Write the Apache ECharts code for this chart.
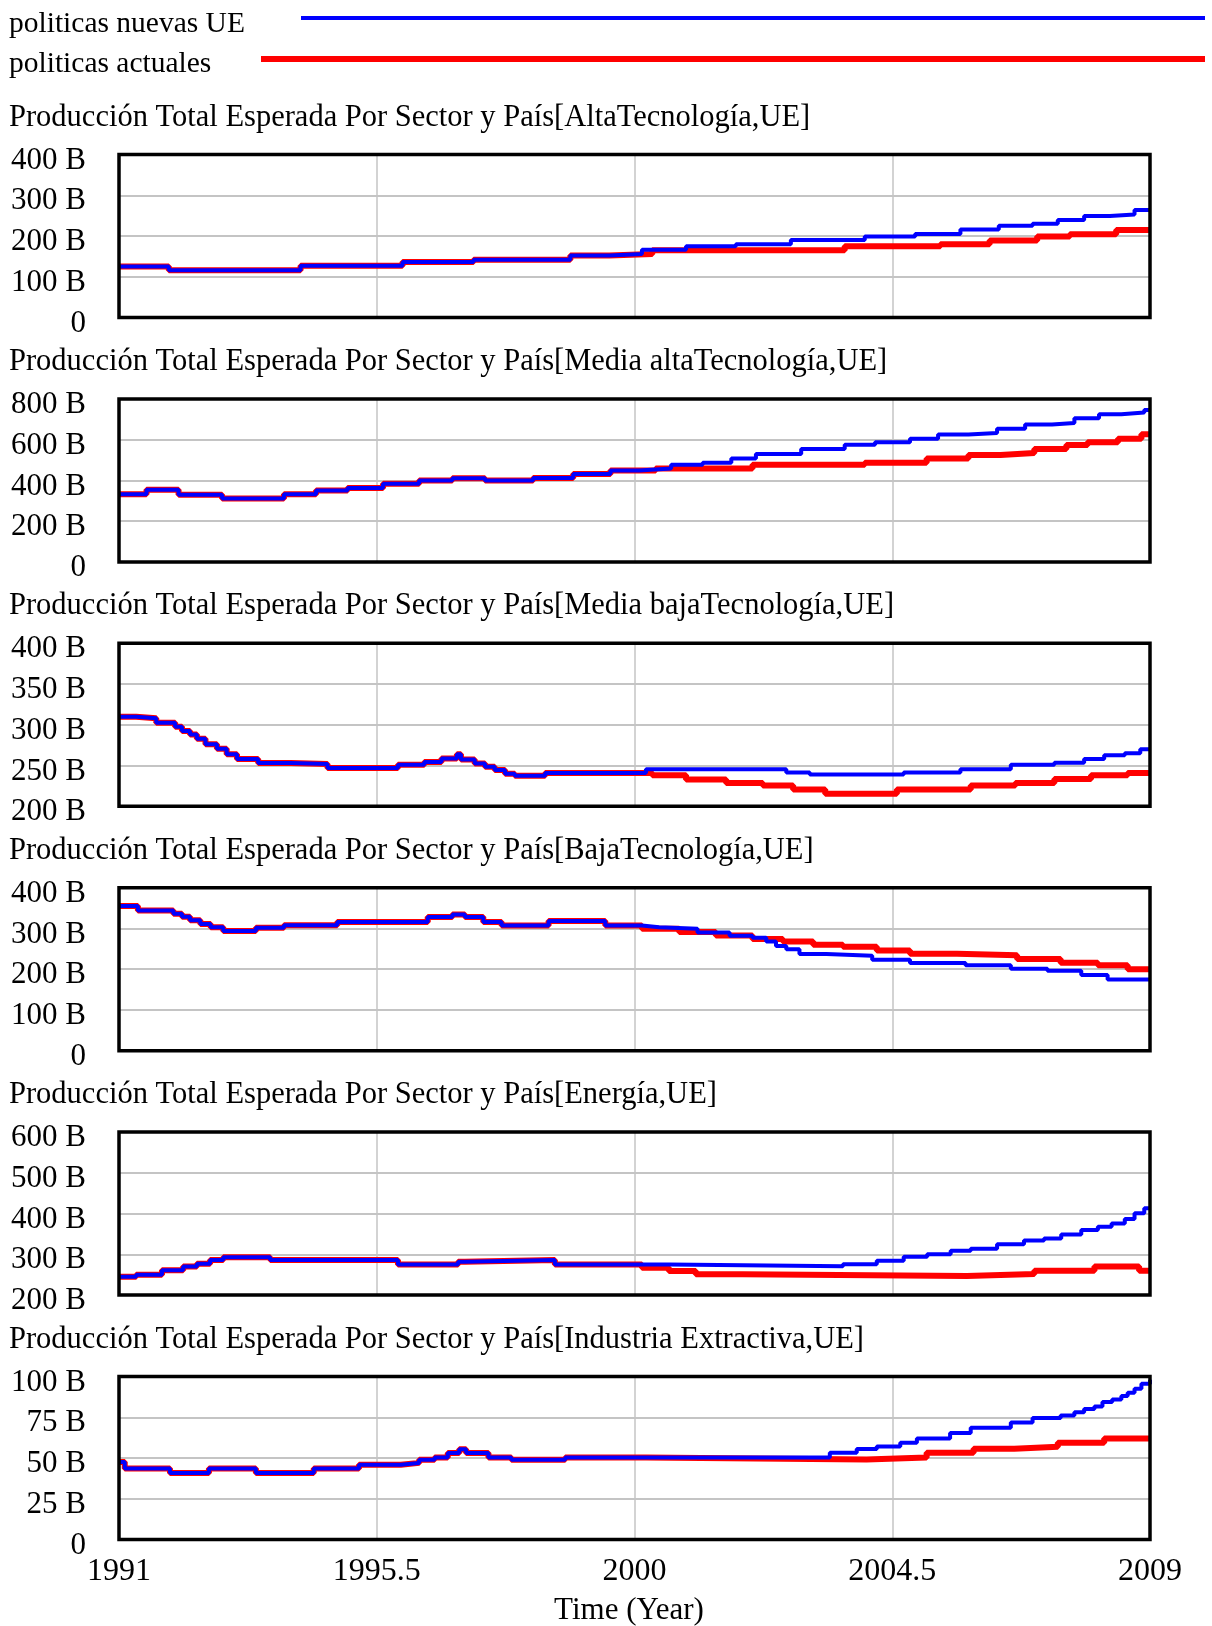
<!DOCTYPE html>
<html>
<head>
<meta charset="utf-8">
<script src="https://cdn.jsdelivr.net/npm/echarts@6/dist/echarts.min.js"></script>
<style>
  html, body { margin: 0; padding: 0; background: #ffffff; }
  #chart { width: 1212px; height: 1626px; }
</style>
</head>
<body>
<div id="chart"></div>
<script>
// Time axis (years)
const yearStart = 1991;
const yearEnd = 2009;
const yearStep = 4.5;

const seriesNames = ['politicas nuevas UE', 'politicas actuales'];

const panelTitles = [
  'Producción Total Esperada Por Sector y País[AltaTecnología,UE]',
  'Producción Total Esperada Por Sector y País[Media altaTecnología,UE]',
  'Producción Total Esperada Por Sector y País[Media bajaTecnología,UE]',
  'Producción Total Esperada Por Sector y País[BajaTecnología,UE]',
  'Producción Total Esperada Por Sector y País[Energía,UE]',
  'Producción Total Esperada Por Sector y País[Industria Extractiva,UE]'
];

// Value axes (billions)
const axisMin = [0, 0, 200, 0, 200, 0];
const axisMax = [400, 800, 400, 400, 600, 100];
const axisStep = [100, 200, 50, 100, 100, 25];

// Each run is stored as change points: the value holds until the next year listed.
// Shared history (both runs identical) followed by each run's own path.

// AltaTecnología
const altaComunYears = [1991, 1991.87, 1994.17, 1995.95, 1997.19, 1998.88, 1999.56];
const altaComunVals  = [125, 116, 127, 136, 142, 152, 156];
const altaNuevasYears = [2000.13, 2000.9, 2001.77, 2002.73, 2004.02, 2004.9, 2005.69, 2006.36, 2006.95, 2007.39, 2007.85, 2008.3, 2008.73, 2009];
const altaNuevasVals  = [166, 175, 180, 190, 199, 205, 216, 225, 230, 239, 249, 253, 264, 264];
const altaActualesYears = [2000.31, 2003.67, 2005.34, 2006.2, 2007.03, 2007.6, 2008.41, 2009];
const altaActualesVals  = [165, 175, 180, 189, 199, 204, 215, 215];

// Media altaTecnología
const mediaAltaComunYears = [1991, 1991.48, 1992.04, 1992.8, 1993.88, 1994.44, 1994.99, 1995.61, 1996.24, 1996.82, 1997.39, 1998.23, 1998.93, 1999.58];
const mediaAltaComunVals  = [332, 354, 330, 311, 332, 351, 363, 384, 400, 410, 400, 412, 432, 449];
const mediaAltaNuevasYears = [2000.08, 2000.64, 2001.19, 2001.69, 2002.12, 2002.91, 2003.67, 2004.2, 2004.81, 2005.3, 2005.83, 2006.33, 2006.82, 2007.29, 2007.68, 2008.11, 2008.5, 2008.9, 2009];
const mediaAltaNuevasVals  = [458, 477, 487, 507, 530, 554, 575, 587, 605, 625, 633, 654, 674, 682, 705, 725, 733, 746, 746];
const mediaAltaActualesYears = [2000.37, 2002.06, 2004.02, 2005.1, 2005.83, 2006.39, 2006.98, 2007.54, 2007.91, 2008.44, 2008.85, 2009];
const mediaAltaActualesVals  = [459, 477, 487, 507, 525, 534, 554, 574, 587, 605, 626, 626];

// Media bajaTecnología
const mediaBajaComunYears = [1991, 1991.3, 1991.65, 1991.98, 1992.1, 1992.24, 1992.36, 1992.51, 1992.71, 1992.88, 1993.06, 1993.43, 1994.0, 1994.64, 1995.87, 1996.33, 1996.63, 1996.9, 1996.97, 1997.21, 1997.39, 1997.56, 1997.74, 1997.91, 1998.44];
const mediaBajaComunVals  = [310, 308, 302.5, 297.5, 292.5, 288, 283, 276, 270.5, 264, 258, 253, 252, 247, 251, 254.5, 258.5, 264, 257.5, 252.5, 248.5, 244.5, 240, 237.5, 241];
const mediaBajaNuevasYears = [2000.2, 2002.65, 2003.06, 2004.7, 2005.69, 2006.57, 2007.33, 2007.85, 2008.2, 2008.56, 2008.83, 2009];
const mediaBajaNuevasVals  = [245.5, 241.5, 239, 241.5, 245.5, 251, 253.5, 258, 262.5, 265, 270, 270];
const mediaBajaActualesYears = [2000.31, 2000.9, 2001.6, 2002.24, 2002.77, 2003.33, 2004.58, 2005.87, 2006.65, 2007.33, 2007.97, 2008.61, 2009];
const mediaBajaActualesVals  = [238, 233, 228.5, 225.5, 220.5, 215.5, 220.5, 225.5, 228.5, 233.5, 238, 241, 241];

// BajaTecnología
const bajaComunYears = [1991, 1991.33, 1991.95, 1992.1, 1992.24, 1992.42, 1992.6, 1992.82, 1993.39, 1993.88, 1994.81, 1996.39, 1996.82, 1997.04, 1997.36, 1997.68, 1998.5, 1999.49];
const bajaComunVals  = [355, 344, 336, 329, 320, 311, 303, 294, 302, 308, 316, 328, 334, 328, 316, 307, 318, 307];
const bajaNuevasYears = [2000.13, 2000.43, 2001.1, 2001.66, 2002.06, 2002.3, 2002.47, 2002.65, 2002.88, 2003.35, 2004.15, 2004.81, 2005.78, 2006.57, 2007.21, 2007.8, 2008.26, 2009];
const bajaNuevasVals  = [303, 299, 290, 282, 277, 268, 257, 249, 237, 233, 223, 215, 210, 201, 196, 186, 175, 175];
const bajaActualesYears = [2000.13, 2000.78, 2001.42, 2002.06, 2002.59, 2003.12, 2003.64, 2004.23, 2004.81, 2005.63, 2006.68, 2007.44, 2008.09, 2008.61, 2009];
const bajaActualesVals  = [299, 291, 283, 274, 268, 260, 255, 246, 238, 234, 225, 216, 210, 200, 200];

// Energía
const energiaComunYears = [1991, 1991.3, 1991.75, 1992.12, 1992.36, 1992.59, 1992.82, 1993.64, 1995.87, 1996.92, 1997.04, 1998.61];
const energiaComunVals  = [245, 250, 261, 270, 277, 286, 293, 286, 275, 282, 286, 275];
const energiaNuevasYears = [2000.6, 2003.64, 2004.23, 2004.7, 2005.11, 2005.52, 2005.87, 2006.33, 2006.8, 2007.15, 2007.45, 2007.8, 2008.09, 2008.33, 2008.56, 2008.73, 2008.9, 2009];
const energiaNuevasVals  = [270.5, 276, 284, 294, 300, 309, 314, 325, 334, 339, 349, 360, 368, 376, 387, 401, 413, 413];
const energiaActualesYears = [2000.13, 2000.6, 2001.07, 2001.89, 2005.8, 2006.98, 2008.03, 2008.81, 2009];
const energiaActualesVals  = [267, 259, 251, 247, 251.5, 260, 270, 260, 260];

// Industria Extractiva
const extractivaComunYears = [1991, 1991.1, 1991.89, 1992.57, 1993.39, 1994.4, 1995.19, 1995.92, 1996.24, 1996.51, 1996.74, 1996.94, 1997.06, 1997.45, 1997.85, 1998.79];
const extractivaComunVals  = [47.5, 43.5, 40.8, 43.5, 40.8, 43.5, 45.8, 47, 49, 50.3, 53, 55.3, 53, 50.3, 49, 50.3];
const extractivaNuevasYears = [2003.41, 2003.88, 2004.23, 2004.64, 2004.93, 2005.51, 2005.87, 2006.57, 2006.95, 2007.44, 2007.68, 2007.85, 2008.03, 2008.17, 2008.34, 2008.5, 2008.61, 2008.73, 2008.85, 2009];
const extractivaNuevasVals  = [53.2, 55.5, 57.1, 59.4, 61.9, 65.4, 68.5, 71.8, 74.5, 76, 78, 80.1, 81.6, 84.3, 85.9, 88, 90, 92.5, 95.5, 98];
const extractivaActualesYears = [2000.2, 2004.05, 2005.1, 2005.92, 2006.63, 2007.39, 2008.2, 2009];
const extractivaActualesVals  = [49.1, 50.3, 53.2, 55.7, 56.9, 59.4, 61.9, 61.9];

const panels = [
  [altaComunYears, altaComunVals, altaNuevasYears, altaNuevasVals, altaActualesYears, altaActualesVals],
  [mediaAltaComunYears, mediaAltaComunVals, mediaAltaNuevasYears, mediaAltaNuevasVals, mediaAltaActualesYears, mediaAltaActualesVals],
  [mediaBajaComunYears, mediaBajaComunVals, mediaBajaNuevasYears, mediaBajaNuevasVals, mediaBajaActualesYears, mediaBajaActualesVals],
  [bajaComunYears, bajaComunVals, bajaNuevasYears, bajaNuevasVals, bajaActualesYears, bajaActualesVals],
  [energiaComunYears, energiaComunVals, energiaNuevasYears, energiaNuevasVals, energiaActualesYears, energiaActualesVals],
  [extractivaComunYears, extractivaComunVals, extractivaNuevasYears, extractivaNuevasVals, extractivaActualesYears, extractivaActualesVals]
];

// ---- layout & style ----
const FONT = '"Liberation Serif", "Times New Roman", serif';
const BLUE = '#0000ff';
const RED = '#ff0000';
const GRID_LEFT = 119;
const GRID_WIDTH = 1031;
const GRID_TOP0 = 154.5;
const GRID_PITCH = 244.4;
const GRID_HEIGHT = 163;

// x positions are measured in years since the start so the 4.5-year ticks line up with min
function toPoints(years, vals) {
  return years.map((y, i) => [y - yearStart, vals[i]]);
}

const grids = [], xAxes = [], yAxes = [], series = [], titles = [];

panels.forEach((p, i) => {
  const top = GRID_TOP0 + GRID_PITCH * i;
  const last = i === panels.length - 1;
  grids.push({
    left: GRID_LEFT, width: GRID_WIDTH, top: top, height: GRID_HEIGHT, z: 6,
    show: true, borderColor: '#000000', borderWidth: 3.5, backgroundColor: 'transparent'
  });
  titles.push({
    text: panelTitles[i], left: 9, top: top - 39.5 - 13.5, padding: 0,
    textStyle: { fontFamily: FONT, fontSize: 30.5, fontWeight: 'normal', color: '#000', lineHeight: 32 }
  });
  xAxes.push({
    type: 'value', gridIndex: i, min: 0, max: yearEnd - yearStart, interval: yearStep,
    axisLine: { show: false }, axisTick: { show: false },
    axisLabel: {
      show: last, margin: 16, color: '#000', fontFamily: FONT, fontSize: 32,
      formatter: v => String(yearStart + v)
    },
    splitLine: { show: true, showMinLine: false, showMaxLine: false, lineStyle: { color: '#c4c4c4', width: 1.5 } }
  });
  yAxes.push({
    type: 'value', gridIndex: i, min: axisMin[i], max: axisMax[i], interval: axisStep[i],
    axisLine: { show: false }, axisTick: { show: false },
    axisLabel: {
      margin: 33, color: '#000', fontFamily: FONT, fontSize: 31,
      verticalAlign: 'top', lineHeight: 12,
      formatter: v => (v === 0 ? '0' : v + ' B')
    },
    splitLine: { show: true, showMinLine: false, showMaxLine: false, lineStyle: { color: '#c4c4c4', width: 2 } }
  });
  const [cY, cV, nY, nV, aY, aV] = p;
  series.push({
    name: seriesNames[1], type: 'line', xAxisIndex: i, yAxisIndex: i,
    step: 'end', symbol: 'none', z: 3,
    lineStyle: { color: RED, width: 6 }, itemStyle: { color: RED },
    data: toPoints(cY.concat(aY), cV.concat(aV))
  });
  series.push({
    name: seriesNames[0], type: 'line', xAxisIndex: i, yAxisIndex: i,
    step: 'end', symbol: 'none', z: 4,
    lineStyle: { color: BLUE, width: 4 }, itemStyle: { color: BLUE },
    data: toPoints(cY.concat(nY), cV.concat(nV))
  });
});

const chart = echarts.init(document.getElementById('chart'), null, { renderer: 'canvas' });
chart.setOption({
  animation: false,
  backgroundColor: '#ffffff',
  title: titles,
  grid: grids,
  xAxis: xAxes,
  yAxis: yAxes,
  series: series,
  graphic: [
    { type: 'text', x: 9, y: 24.5, style: { text: seriesNames[0], fill: '#000', font: '29.5px ' + FONT, verticalAlign: 'middle' } },
    { type: 'line', shape: { x1: 301, y1: 18, x2: 1205, y2: 18 }, style: { stroke: BLUE, lineWidth: 4 } },
    { type: 'text', x: 9, y: 64, style: { text: seriesNames[1], fill: '#000', font: '29.5px ' + FONT, verticalAlign: 'middle' } },
    { type: 'line', shape: { x1: 261, y1: 59, x2: 1205, y2: 59 }, style: { stroke: RED, lineWidth: 6 } },
    { type: 'text', x: 629, y: 1611, style: { text: 'Time (Year)', fill: '#000', font: '31px ' + FONT, align: 'center', verticalAlign: 'middle' } }
  ]
});
</script>
</body>
</html>
